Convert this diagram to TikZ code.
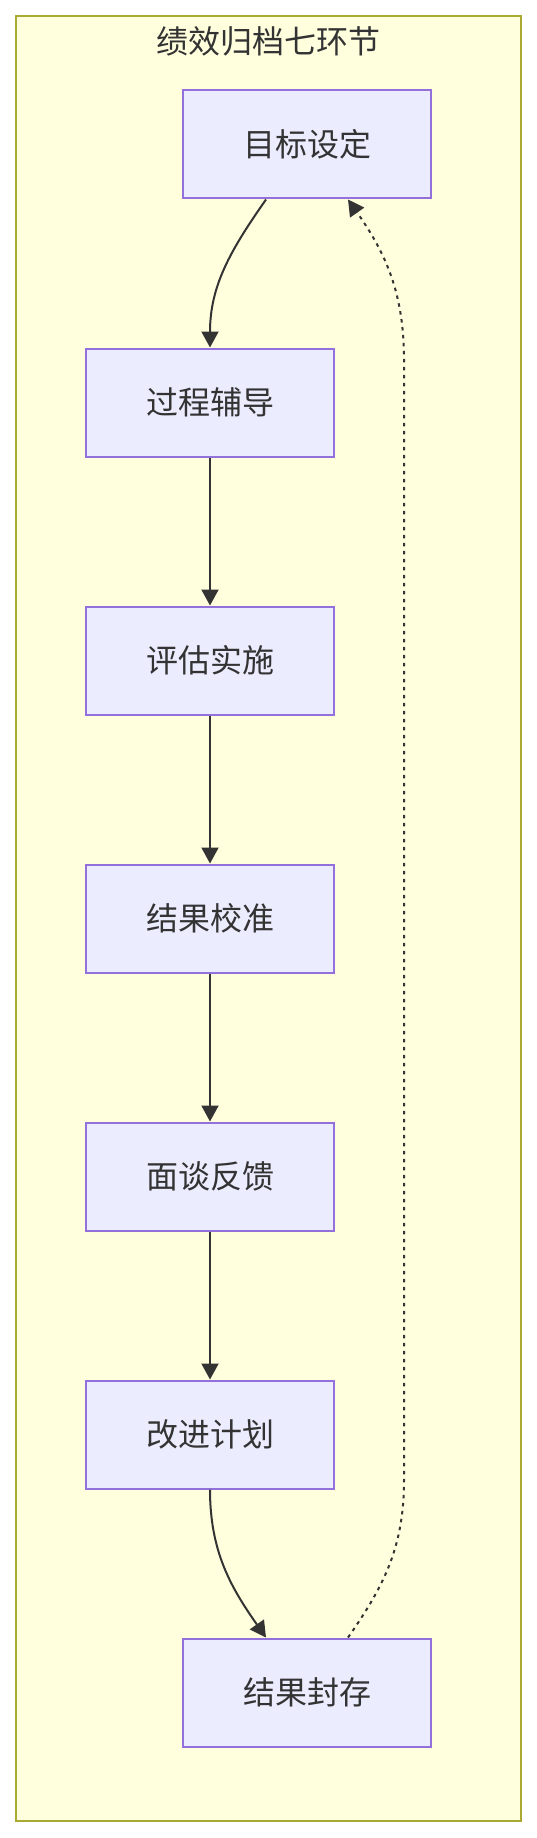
\documentclass[tikz,border=0pt]{standalone}
\usepackage{fontspec}
\usepackage{xcolor}
\usepackage{tikz}
\usetikzlibrary{arrows.meta, positioning}
\newfontfamily\cjk{Noto Sans CJK SC}
\definecolor{framefill}{HTML}{FFFFDE}
\definecolor{frameline}{HTML}{AAAA33}
\definecolor{boxfill}{HTML}{ECECFF}
\definecolor{boxline}{HTML}{9370DB}
\definecolor{ink}{HTML}{333333}

\begin{document}
\begin{tikzpicture}[
		stepbox/.style={draw=boxline, fill=boxfill, line width=2pt, minimum width=248pt, minimum height=108pt, inner sep=0pt},
		flow/.style={draw=ink, line width=2pt, -{Triangle[length=16pt,width=17pt]}},
		backflow/.style={dash pattern=on 3.5pt off 4.5pt},
		node distance=148pt,
		every node/.style={align=center, text=ink, font=\cjk\fontsize{32}{38}\selectfont}
		]
		\useasboundingbox (0,0) rectangle (537pt,-1838pt);
		
		% Frame and title
		\draw[draw=frameline, fill=framefill, line width=2.3pt] (16pt,-16pt) rectangle (521pt,-1821pt);
		\node (title) at (268.5pt,-41pt) {绩效归档七环节};
		
		% Steps
		\node[stepbox] (goal) at (307pt,-144.5pt) {目标设定};
		\node[stepbox, below=of goal, xshift=-97pt] (coach) {过程辅导};
		\node[stepbox, below=of coach] (assess) {评估实施};
		\node[stepbox, below=of assess] (calib) {结果校准};
		\node[stepbox, below=of calib] (talk) {面谈反馈};
		\node[stepbox, below=of talk] (plan) {改进计划};
		\node[stepbox, below=of plan, xshift=97pt] (seal) {结果封存};
		
		% Arrows
		\draw[flow] ([xshift=-41pt]goal.south) to[out=-125, in=90] (coach.north);
		\foreach \i/\j in {coach/assess, assess/calib, calib/talk, talk/plan}
		\draw[flow] (\i) -- (\j);
		\draw[flow] (plan.south) to[out=-90, in=125] ([xshift=-41pt]seal.north);
		
		% Back loop
		\coordinate (backlow) at (404pt,-1480pt);
		\coordinate (backhigh) at (404pt,-360pt);
		\draw[flow, backflow] ([xshift=41pt]seal.north) to[out=55, in=-90] (backlow) -- (backhigh) to[out=90, in=-55] ([xshift=41pt]goal.south);
		
	\end{tikzpicture}
\end{document}
